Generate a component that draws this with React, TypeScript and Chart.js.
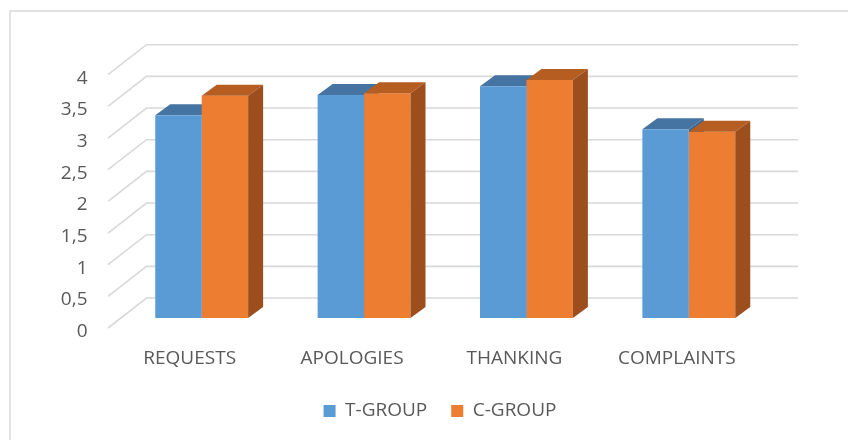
import React, { useEffect, useRef } from "react";
import { Chart, registerables } from "chart.js";
Chart.register(...registerables);

const categories = ["REQUESTS", "APOLOGIES", "THANKING", "COMPLAINTS"];
const tGroup = [3.2, 3.52, 3.66, 2.98];
const cGroup = [3.51, 3.55, 3.76, 2.94];
const yTickValues = [0, 0.5, 1, 1.5, 2, 2.5, 3, 3.5, 4];
const yTickLabels = ["0", "0,5", "1", "1,5", "2", "2,5", "3", "3,5", "4"];
const seriesNames = ["T-GROUP", "C-GROUP"];

const BLUE = "#5b9bd5";
const ORANGE = "#ed7d31";
const BLUE_TOP = "#4674a2";
const BLUE_SIDE = "#3e6890";
const ORANGE_TOP = "#b65d22";
const ORANGE_SIDE = "#9c4f1d";
const GRID = "#d9d9d9";
const TEXT = "#595959";
const FONT = "'Open Sans', sans-serif";
const FONT_SIZE = 19;

const DEPTH_X = 15;
const DEPTH_Y = 11;
const BACK_DX = 26;
const BACK_DY = -20;
const FRONT_DX = -12.5;
const FRONT_DY = 10;
const LEGEND_CENTER = 440;

function drawExtras(chart: any, dsIndex: number, top: string, side: string) {
  const ctx = chart.ctx;
  const meta = chart.getDatasetMeta(dsIndex);
  meta.data.forEach((bar: any) => {
    const x1 = bar.x - bar.width / 2;
    const x2 = bar.x + bar.width / 2;
    const yt = bar.y;
    const yb = bar.base;
    ctx.save();
    ctx.fillStyle = top;
    ctx.beginPath();
    ctx.moveTo(x1, yt);
    ctx.lineTo(x2, yt);
    ctx.lineTo(x2 + DEPTH_X, yt - DEPTH_Y);
    ctx.lineTo(x1 + DEPTH_X, yt - DEPTH_Y);
    ctx.closePath();
    ctx.fill();
    ctx.fillStyle = side;
    ctx.beginPath();
    ctx.moveTo(x2, yt);
    ctx.lineTo(x2 + DEPTH_X, yt - DEPTH_Y);
    ctx.lineTo(x2 + DEPTH_X, yb - DEPTH_Y);
    ctx.lineTo(x2, yb);
    ctx.closePath();
    ctx.fill();
    ctx.restore();
  });
}

const threeD = {
  id: "threeD",
  afterLayout(chart: any) {
    const lg = chart.legend;
    if (lg) {
      const d = LEGEND_CENTER - (lg.left + lg.right) / 2;
      lg.left += d;
      lg.right += d;
    }
  },
  beforeDraw(chart: any) {
    const ctx = chart.ctx;
    ctx.save();
    ctx.fillStyle = "#ffffff";
    ctx.fillRect(0, 0, chart.width, chart.height);
    ctx.strokeStyle = "#d9d9d9";
    ctx.lineWidth = 1.5;
    ctx.beginPath();
    ctx.moveTo(10, chart.height);
    ctx.lineTo(10, 11);
    ctx.lineTo(chart.width, 11);
    ctx.stroke();
    ctx.restore();
  },
  beforeDatasetsDraw(chart: any) {
    const ctx = chart.ctx;
    const ys = chart.scales.y;
    const { left, right } = chart.chartArea;
    ctx.save();
    ctx.strokeStyle = GRID;
    ctx.lineWidth = 1.6;
    yTickValues.forEach((v) => {
      const y = ys.getPixelForValue(v);
      ctx.beginPath();
      ctx.moveTo(left + FRONT_DX, y + FRONT_DY);
      ctx.lineTo(left + BACK_DX, y + BACK_DY);
      ctx.lineTo(right + 28, y + BACK_DY);
      ctx.stroke();
    });
    ctx.restore();
    drawExtras(chart, 0, BLUE_TOP, BLUE_SIDE);
  },
  afterDatasetsDraw(chart: any) {
    drawExtras(chart, 1, ORANGE_TOP, ORANGE_SIDE);
  },
};

export default function App() {
  const ref = useRef<HTMLCanvasElement>(null);
  useEffect(() => {
    if (!ref.current) return;
    const chart = new Chart(ref.current, {
      type: "bar",
      data: {
        labels: categories,
        datasets: [
          { label: seriesNames[0], data: tGroup, backgroundColor: BLUE, borderWidth: 0, categoryPercentage: 0.572, barPercentage: 1 },
          { label: seriesNames[1], data: cGroup, backgroundColor: ORANGE, borderWidth: 0, categoryPercentage: 0.572, barPercentage: 1 },
        ],
      },
      options: {
        responsive: false,
        animation: false,
        layout: { padding: { left: 0, right: 78, top: 64.7, bottom: 9.5 } },
        plugins: {
          tooltip: { enabled: false },
          legend: {
            position: "bottom",
            labels: {
              boxWidth: 12,
              boxHeight: 12,
              padding: 24,
              color: TEXT,
              font: { family: FONT, size: FONT_SIZE },
            },
          },
        },
        scales: {
          x: {
            grid: { display: false, drawTicks: false },
            border: { display: false },
            ticks: { color: TEXT, font: { family: FONT, size: FONT_SIZE }, labelOffset: -12, padding: 29.5, maxRotation: 0 },
            afterFit: (s: any) => { s.height = 59.5; },
          },
          y: {
            min: 0,
            max: 4,
            afterBuildTicks: (s: any) => { s.ticks = yTickValues.map((v) => ({ value: v })); },
            grid: { display: false, drawTicks: false },
            border: { display: false },
            ticks: {
              color: TEXT,
              font: { family: FONT, size: FONT_SIZE },
              labelOffset: 13.5,
              padding: 33,
              callback: (_v: any, i: number) => yTickLabels[i],
            },
            afterFit: (s: any) => { s.width = 120.5; },
          },
        },
      },
      plugins: [threeD],
    });
    return () => chart.destroy();
  }, []);
  return (
    <div style={{ position: "absolute", left: 0, top: 0, width: 848, height: 440 }}>
      <canvas ref={ref} width={848} height={440} />
    </div>
  );
}
